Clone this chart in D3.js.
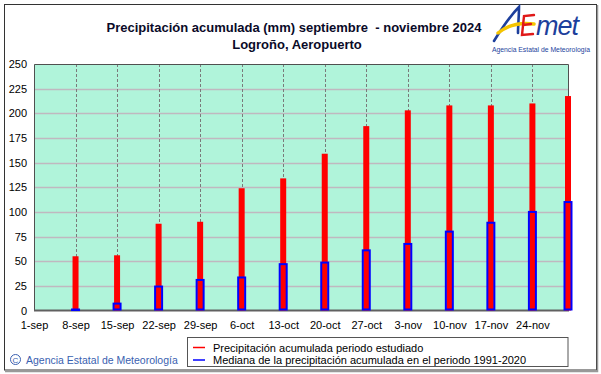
<!DOCTYPE html>
<html>
<head>
<meta charset="utf-8">
<script src="https://cdn.jsdelivr.net/npm/d3@7"></script>
<style>
body{margin:0;background:#fff;}
svg{display:block;}
text{font-family:"Liberation Sans",Arial,sans-serif;}
</style>
</head>
<body>
<svg id="chart" width="601" height="374"></svg>
<script>
// ---- data ----
const tickDays = [0,7,14,21,28,35,42,49,56,63,70,77,84];
const tickLabels = ["1-sep","8-sep","15-sep","22-sep","29-sep","6-oct","13-oct","20-oct","27-oct","3-nov","10-nov","17-nov","24-nov"];
const barDays = [7,14,21,28,35,42,49,56,63,70,77,84,90];
const precipStudied = [55,56,88,90,124,134,159,187,203,208,208,210,217.5];
const precipMedian = [1,7,24.3,31,33.5,47,48.6,61,67.5,80,89,100,110];
const yTicks = [0,25,50,75,100,125,150,175,200,225,250];
const titleLines = ["Precipitación acumulada (mm) septiembre  - noviembre 2024","Logroño, Aeropuerto"];
const legendLabels = ["Precipitación acumulada periodo estudiado","Mediana de la precipitación acumulada en el periodo 1991-2020"];
const legendColors = ["#ff0000","#0000ff"];

const svg = d3.select("#chart");
const L=34, R=568, T=64, B=310.5;
const x = d3.scaleLinear().domain([0,90]).range([L,R]);
const y = d3.scaleLinear().domain([0,250]).range([B,T]);

// outer frame
svg.append("rect").attr("x",4.5).attr("y",4.5).attr("width",592).attr("height",365.5)
  .attr("fill","#fff").attr("stroke","#333").attr("stroke-width",1);
svg.append("path").attr("d","M597.5,5 V371.5 H5").attr("fill","none").attr("stroke","#999").attr("stroke-width",1.5);

// plot background
svg.append("rect").attr("x",L).attr("y",T).attr("width",R-L).attr("height",B-T).attr("fill","#b0f4da");

// horizontal grid
svg.append("g").selectAll("line").data(yTicks.filter(v=>v>0&&v<250)).join("line")
  .attr("x1",L).attr("x2",R).attr("y1",d=>Math.round(y(d))+0.5).attr("y2",d=>Math.round(y(d))+0.5)
  .attr("stroke","#c0b8c0").attr("stroke-width",1.6);

// vertical dashed grid
svg.append("g").selectAll("line").data(tickDays.filter(d=>d>0)).join("line")
  .attr("x1",d=>Math.round(x(d))+0.5).attr("x2",d=>Math.round(x(d))+0.5).attr("y1",T).attr("y2",B)
  .attr("stroke","#7a7a7a").attr("stroke-width",1).attr("stroke-dasharray","3,2");

// plot border
svg.append("path").attr("d",`M${L+0.5},${B} V${T+0.5} H${R+0.5} V${B}`).attr("fill","none").attr("stroke","#505050").attr("stroke-width",1);
svg.append("line").attr("x1",L).attr("x2",R+1).attr("y1",B).attr("y2",B).attr("stroke","#606060").attr("stroke-width",2);

// red bars
svg.append("g").selectAll("rect").data(barDays).join("rect")
  .attr("x",(d)=>x(d)-3).attr("width",6)
  .attr("y",(d,i)=>y(precipStudied[i])).attr("height",(d,i)=>B-y(precipStudied[i]))
  .attr("fill","#ff0000");

// blue median bars (outlined)
svg.append("g").selectAll("rect").data(barDays).join("rect")
  .attr("x",(d)=>x(d)-3.5).attr("width",7)
  .attr("y",(d,i)=>y(precipMedian[i])).attr("height",(d,i)=>Math.max(B-y(precipMedian[i])-1,0.5))
  .attr("fill","none").attr("stroke","#0000ff").attr("stroke-width",2);

// axes
const yAxis = d3.axisLeft(y).tickValues(yTicks).tickSize(0).tickPadding(7).tickFormat(d3.format("d"));
const gy = svg.append("g").attr("transform",`translate(${L},0)`).call(yAxis);
gy.select(".domain").remove();
gy.selectAll("text").attr("font-size",11).attr("fill","#000").attr("font-family","Liberation Sans, Arial, sans-serif");

const xAxis = d3.axisBottom(x).tickValues(tickDays).tickSize(0).tickPadding(10.5).tickFormat((d,i)=>tickLabels[i]);
const gx = svg.append("g").attr("transform",`translate(0,${B})`).call(xAxis);
gx.select(".domain").remove();
gx.selectAll("text").attr("font-size",11).attr("fill","#000").attr("font-family","Liberation Sans, Arial, sans-serif");

// title
svg.append("text").attr("x",294).attr("y",31.5).attr("text-anchor","middle").attr("font-size",13).attr("font-weight","bold").attr("fill","#0a0a28").style("white-space","pre").text(titleLines[0]);
svg.append("text").attr("x",297).attr("y",48.5).attr("text-anchor","middle").attr("font-size",13).attr("font-weight","bold").attr("fill","#0a0a28").text(titleLines[1]);

// legend
const lg = svg.append("g");
lg.append("rect").attr("x",187.5).attr("y",337.5).attr("width",380.5).attr("height",29).attr("fill","#fff").attr("stroke","#555").attr("stroke-width",1);
legendLabels.forEach((t,i)=>{
  const yy = 347.5 + i*12.5;
  lg.append("line").attr("x1",193).attr("x2",205).attr("y1",yy).attr("y2",yy).attr("stroke",legendColors[i]).attr("stroke-width",1.5);
  lg.append("text").attr("x",213).attr("y",yy+4).attr("font-size",11).attr("fill","#000").text(t);
});

// copyright
svg.append("circle").attr("cx",15.5).attr("cy",359.5).attr("r",5).attr("fill","none").attr("stroke","#3a5fb0").attr("stroke-width",1);
svg.append("text").attr("x",15.5).attr("y",362.5).attr("text-anchor","middle").attr("font-size",8).attr("fill","#3a5fb0").text("C");
svg.append("text").attr("x",26).attr("y",363.5).attr("font-size",10.5).attr("fill","#3a5fb0").text("Agencia Estatal de Meteorología");

// logo
const logo = svg.append("g");
logo.append("path").attr("d","M494,41 C502,28 510,16 519,7 C519,16 518,25 518,33").attr("fill","none").attr("stroke","#1d3f9c").attr("stroke-width",2.6).attr("stroke-linecap","round");
logo.append("path").attr("d","M498,33 C508,25 520,22 534,24").attr("fill","none").attr("stroke","#f5c400").attr("stroke-width",3.5).attr("stroke-linecap","round");
logo.append("path").attr("d","M534,15 L524,16 L522,35 L533,34 M523,25 L531,24").attr("fill","none").attr("stroke","#e01818").attr("stroke-width",2.4).attr("stroke-linecap","round");
logo.append("text").attr("x",536).attr("y",35).attr("font-size",27).attr("font-style","italic").attr("fill","#1d3f9c").attr("font-family","DejaVu Sans, sans-serif").attr("letter-spacing",-1).text("met");
logo.append("text").attr("x",541).attr("y",51.5).attr("text-anchor","middle").attr("font-size",6.8).attr("fill","#1d3f9c").text("Agencia Estatal de Meteorología");
</script>
</body>
</html>
